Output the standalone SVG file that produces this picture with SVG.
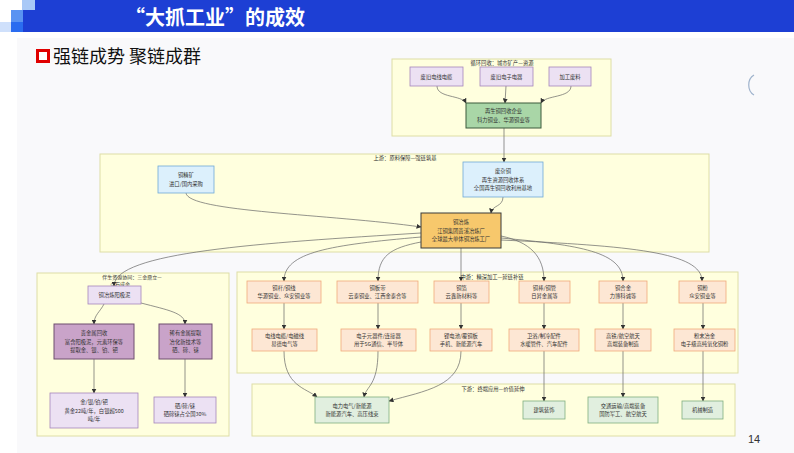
<svg xmlns="http://www.w3.org/2000/svg" width="794" height="453" viewBox="0 0 794 453">
<style>
.cl{fill:#ffffde;stroke:#dedea6;stroke-width:1}
.t{font-family:"Noto Sans CJK SC","Noto Sans",sans-serif;font-size:5.3px;fill:#333;text-anchor:middle;dominant-baseline:central}
.lb{font-family:"Noto Sans CJK SC","Noto Sans",sans-serif;font-size:5.3px;fill:#333;text-anchor:middle;dominant-baseline:central}
.pu{fill:#ece1f3;stroke:#a585bb;stroke-width:0.8}
.pd{fill:#c9a3c9;stroke:#6e4e6e;stroke-width:1}
.bl{fill:#dcf0fc;stroke:#6fa9d6;stroke-width:0.8}
.or{fill:#fde7d4;stroke:#f0aa7a;stroke-width:0.8}
.gr{fill:#e1efdf;stroke:#7fae7f;stroke-width:0.8}
.gd{fill:#a9d6a7;stroke:#3c5a3c;stroke-width:1}
.cu{fill:#f7c86c;stroke:#3a3a3a;stroke-width:1}
.e{fill:none;stroke:#666;stroke-width:0.7;marker-end:url(#ah)}
</style>
<defs>
<marker id="ah" markerUnits="userSpaceOnUse" markerWidth="5" markerHeight="5" refX="4.5" refY="2.5" orient="auto">
<path d="M0,0 L5,2.5 L0,5 z" fill="#333"/>
</marker>
</defs>
<rect width="794" height="453" fill="#ffffff"/>
<rect x="17" y="38" width="777" height="415" fill="#f9f9fb"/>
<path d="M754,75 A9,11 0 0 0 754,95" fill="none" stroke="#9fb3cc" stroke-width="1.2"/>
<!-- header -->
<g id="header">
<rect x="35" y="0" width="759" height="10" fill="#1d3fd4"/>
<rect x="23" y="10" width="771" height="22" fill="#1d3fd4"/>
<rect x="22" y="0" width="13" height="10" fill="#a9c9f7"/>
<rect x="0" y="22" width="11" height="10" fill="#cfe0fb"/>
<rect x="11" y="10" width="12" height="12" fill="#5a93f2"/>
<rect x="11" y="22" width="12" height="10" fill="#2a6cf0"/>
<text x="215" y="25" font-family="'Noto Sans CJK SC',sans-serif" font-size="20" font-weight="bold" fill="#ffffff" text-anchor="middle">“大抓工业”的成效</text>
</g>
<g id="subtitle">
<rect x="37.5" y="50.5" width="11" height="11" fill="#ffffff" stroke="#e00000" stroke-width="3"/>
<text x="53" y="63" font-family="'Noto Sans CJK SC',sans-serif" font-size="18" fill="#111">强链成势 聚链成群</text>
</g>
<!-- clusters -->
<g id="cluster-recycle">
<rect class="cl" x="392" y="59" width="219" height="77"/>
<text class="lb" x="502" y="63">循环回收：城市矿产—资源</text>
</g>
<g id="cluster-up">
<rect class="cl" x="100" y="154" width="609" height="98"/>
<text class="lb" x="405" y="158">上游：原料保障—强链筑基</text>
</g>
<g id="cluster-assoc">
<rect class="cl" x="37" y="273" width="192" height="163"/>
<text class="lb" x="132" y="276.6" style="font-size:5px">伴生资源协同：三金鼎立—</text>
<text class="lb" x="120" y="283.9" style="font-size:5px">点石成金</text>
</g>
<g id="cluster-mid">
<rect class="cl" x="237" y="272" width="501" height="101"/>
<text class="lb" x="492" y="277">中游：精深加工—延链补链</text>
</g>
<g id="cluster-down">
<rect class="cl" x="252" y="384" width="483" height="52"/>
<text class="lb" x="493" y="389">下游：终端应用—价值延伸</text>
</g>
<!-- connectors -->
<g id="connectors">
<path class="e" d="M437,86 C437,98 462,95 466,103"/>
<path class="e" d="M506,86 L505,103"/>
<path class="e" d="M571,86 C571,98 545,95 541,103"/>
<path class="e" d="M504,128 L504,162"/>
<path class="e" d="M186,193 C188,212 330,214 421,227"/>
<path class="e" d="M503,197 C503,207 492,205 491,213"/>
<path class="e" d="M421,233 C260,243 114,252 114,286"/>
<path class="e" d="M421,237 C330,245 284,252 284,281"/>
<path class="e" d="M421,242 C390,248 378,256 378,281"/>
<path class="e" d="M461,248 L461,281"/>
<path class="e" d="M501,236 C530,242 544,256 544,281"/>
<path class="e" d="M501,238 C580,245 623,252 623,281"/>
<path class="e" d="M501,240 C630,246 702,252 702,281"/>
<path class="e" d="M104,304 C100,312 94,315 94,324"/>
<path class="e" d="M141,303 C168,310 185,313 185,324"/>
<path class="e" d="M94,359 L94,393"/>
<path class="e" d="M185,359 L185,397"/>
<path class="e" d="M284,303 L284,329"/>
<path class="e" d="M378,303 L378,329"/>
<path class="e" d="M461,303 L461,329"/>
<path class="e" d="M544,303 L544,329"/>
<path class="e" d="M623,303 L623,329"/>
<path class="e" d="M703,303 L703,329"/>
<path class="e" d="M284,351 C284,386 306,388 317,397"/>
<path class="e" d="M378,351 C378,386 366,386 364,397"/>
<path class="e" d="M461,351 C461,386 425,391 389,401"/>
<path class="e" d="M544,351 L544,401"/>
<path class="e" d="M623,351 L623,397"/>
<path class="e" d="M703,351 L703,401"/>
</g>
<!-- recycle nodes -->
<g id="n-fjdx"><rect class="pu" x="410" y="67" width="53" height="19"/><text class="t" x="436.5" y="76.5">废旧电线电缆</text></g>
<g id="n-fjdz"><rect class="pu" x="480" y="67" width="53" height="19"/><text class="t" x="506.5" y="76.5">废旧电子电器</text></g>
<g id="n-jgfl"><rect class="pu" x="549" y="67" width="42" height="19"/><text class="t" x="570" y="76.5">加工废料</text></g>
<g id="n-zstg"><rect class="gd" x="466" y="103" width="75" height="25"/><text class="t" x="503.5" y="111.4">再生铜回收企业</text><text class="t" x="503.5" y="119.7">科力铜业、华源铜业等</text></g>
<!-- upstream -->
<g id="n-tjk"><rect class="bl" x="158" y="166" width="56" height="27"/><text class="t" x="186" y="175.3">铜精矿</text><text class="t" x="186" y="183.6">进口/国内采购</text></g>
<g id="n-fzt"><rect class="bl" x="463" y="162" width="80" height="35"/><text class="t" x="503" y="171.2">废杂铜</text><text class="t" x="503" y="179.5">再生资源回收体系</text><text class="t" x="503" y="187.8">全国再生铜回收利用基地</text></g>
<g id="n-tyl"><rect class="cu" x="421" y="213" width="80" height="35"/><text class="t" x="461" y="222.2">铜冶炼</text><text class="t" x="461" y="230.5">江铜集团贵溪冶炼厂</text><text class="t" x="461" y="238.8">全球最大单体铜冶炼工厂</text></g>
<!-- associated -->
<g id="n-yjn"><rect class="pu" x="88" y="286" width="53" height="18"/><text class="t" x="114.5" y="295">铜冶炼阳极泥</text></g>
<g id="n-gjs"><rect class="pd" x="54" y="324" width="80" height="35"/><text class="t" x="94" y="333.2">贵金属回收</text><text class="t" x="94" y="341.5">富含阳极泥，元素环保等</text><text class="t" x="94" y="349.8">提取金、银、铂、钯</text></g>
<g id="n-xyjs"><rect class="pd" x="159" y="324" width="53" height="35"/><text class="t" x="185.5" y="333.2">稀有金属提取</text><text class="t" x="185.5" y="341.5">冶化新技术等</text><text class="t" x="185.5" y="349.8">硒、碲、铼</text></g>
<g id="n-jybp"><rect class="pu" x="50" y="393" width="88" height="35"/><text class="t" x="94" y="402.2">金/银/铂/钯</text><text class="t" x="94" y="410.5">黄金22吨/年，白银超500</text><text class="t" x="94" y="418.8">吨/年</text></g>
<g id="n-xdl"><rect class="pu" x="154" y="397" width="62" height="26"/><text class="t" x="185" y="405.9">硒/碲/铼</text><text class="t" x="185" y="414.2">硒碲铼占全国30%</text></g>
<!-- midstream row 1 -->
<g id="n-tg"><rect class="or" x="247" y="281" width="74" height="22"/><text class="t" x="284" y="287.9">铜杆/铜线</text><text class="t" x="284" y="296.2">华源铜业、众安铜业等</text></g>
<g id="n-tbd"><rect class="or" x="337" y="281" width="81" height="22"/><text class="t" x="377.5" y="287.9">铜板带</text><text class="t" x="377.5" y="296.2">云泰铜业、江西金泰合等</text></g>
<g id="n-tb"><rect class="or" x="434" y="281" width="55" height="22"/><text class="t" x="461.5" y="287.9">铜箔</text><text class="t" x="461.5" y="296.2">云鑫新材料等</text></g>
<g id="n-tbg"><rect class="or" x="519" y="281" width="51" height="22"/><text class="t" x="544.5" y="287.9">铜棒/铜管</text><text class="t" x="544.5" y="296.2">日昇金属等</text></g>
<g id="n-thj"><rect class="or" x="599" y="281" width="48" height="22"/><text class="t" x="623" y="287.9">铜合金</text><text class="t" x="623" y="296.2">力博科诚等</text></g>
<g id="n-tf"><rect class="or" x="679" y="281" width="47" height="22"/><text class="t" x="702.5" y="287.9">铜粉</text><text class="t" x="702.5" y="296.2">众安铜业等</text></g>
<!-- midstream row 2 -->
<g id="n-dxdl"><rect class="or" x="252" y="329" width="65" height="22"/><text class="t" x="284.5" y="335.9">电线电缆/电磁线</text><text class="t" x="284.5" y="344.2">易德电气等</text></g>
<g id="n-dzyq"><rect class="or" x="341" y="329" width="75" height="22"/><text class="t" x="378.5" y="335.9">电子元器件/连接器</text><text class="t" x="378.5" y="344.2">用于5G通信、半导体</text></g>
<g id="n-ldc"><rect class="or" x="430" y="329" width="62" height="22"/><text class="t" x="461" y="335.9">锂电池/覆铜板</text><text class="t" x="461" y="344.2">手机、新能源汽车</text></g>
<g id="n-wy"><rect class="or" x="509" y="329" width="70" height="22"/><text class="t" x="544" y="335.9">卫浴/制冷配件</text><text class="t" x="544" y="344.2">水暖管件、汽车配件</text></g>
<g id="n-gt"><rect class="or" x="595" y="329" width="56" height="22"/><text class="t" x="623" y="335.9">高铁/航空航天</text><text class="t" x="623" y="344.2">高端装备制造</text></g>
<g id="n-fmyj"><rect class="or" x="674" y="329" width="61" height="22"/><text class="t" x="704.5" y="335.9">粉末冶金</text><text class="t" x="704.5" y="344.2">电子级高纯氧化铜粉</text></g>
<!-- downstream -->
<g id="n-dldq"><rect class="gr" x="315" y="397" width="74" height="26"/><text class="t" x="352" y="405.9">电力电气/新能源</text><text class="t" x="352" y="414.2">新能源汽车、高压线束</text></g>
<g id="n-jzzs"><rect class="gr" x="523" y="401" width="42" height="18"/><text class="t" x="544" y="410">建筑装饰</text></g>
<g id="n-jtys"><rect class="gr" x="588" y="397" width="70" height="26"/><text class="t" x="623" y="405.9">交通运输/高端装备</text><text class="t" x="623" y="414.2">国防军工、航空航天</text></g>
<g id="n-jxzz"><rect class="gr" x="682" y="401" width="41" height="18"/><text class="t" x="702.5" y="410">机械制造</text></g>
<text x="748" y="443" font-family="'Liberation Sans',sans-serif" font-size="11" fill="#333">14</text>
</svg>
